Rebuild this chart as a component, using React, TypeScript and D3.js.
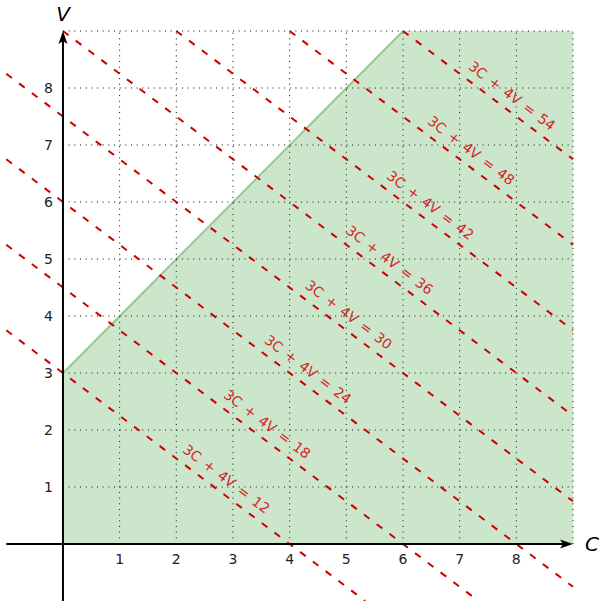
import React from 'react';
import * as d3 from 'd3';

// level lines 3C + 4V = k
const levels = [12, 18, 24, 30, 36, 42, 48, 54];
const xTicks = [1, 2, 3, 4, 5, 6, 7, 8];
const yTicks = [1, 2, 3, 4, 5, 6, 7, 8];
const gridValues = [1, 2, 3, 4, 5, 6, 7, 8, 9];
// feasible region corners (C, V)
const region: [number, number][] = [[0, 0], [0, 3], [6, 9], [9, 9], [9, 0]];
const boundary: [number, number][] = [[0, 3], [6, 9]];

const width = 600;
const height = 601;

const x = d3.scaleLinear().domain([-1, 9]).range([6.3, 573]);
const y = d3.scaleLinear().domain([-1, 9]).range([601, 31]);

const red = '#cc0000';

// clip the line 3C + 4V = k to the box [-1, 9] x [-1, 9]
function levelSegment(k: number): [number, number][] {
  const vAt = (c: number) => (k - 3 * c) / 4;
  const cAt = (v: number) => (k - 4 * v) / 3;
  let c0 = -1;
  if (vAt(c0) > 9) c0 = cAt(9);
  let c1 = 9;
  if (vAt(c1) < -1) c1 = cAt(-1);
  return [[c0, vAt(c0)], [c1, vAt(c1)]];
}

// labels sit where each level line meets the normal V = 4/3 C - 2.7
function labelPoint(k: number): [number, number] {
  const c = ((k + 10.8) * 3) / 25;
  return [c, (k - 3 * c) / 4];
}

export default function App() {
  const line = d3
    .line<[number, number]>()
    .x((d) => x(d[0]))
    .y((d) => y(d[1]));

  const angle = (Math.atan2(y(-0.75) - y(0), x(1) - x(0)) * 180) / Math.PI;
  const font = "'DejaVu Sans', sans-serif";

  return (
    <svg
      width={width}
      height={height}
      style={{ position: 'absolute', left: 0, top: 0, background: '#fff' }}
    >
      {/* dotted grid */}
      <g stroke="#000" strokeWidth={1} strokeDasharray="1 4.67">
        {gridValues.map((v) => (
          <line key={'gx' + v} x1={x(v)} x2={x(v)} y1={y(0)} y2={y(9)} />
        ))}
        {gridValues.map((v) => (
          <line key={'gy' + v} x1={x(0)} x2={x(9)} y1={y(v)} y2={y(v)} />
        ))}
      </g>

      {/* feasible region */}
      <path d={line(region) + 'Z'} fill="green" fillOpacity={0.2} stroke="none" />
      <path d={line(boundary) || ''} stroke="green" strokeOpacity={0.35} strokeWidth={2} fill="none" />

      {/* level lines */}
      <g stroke={red} strokeWidth={2} strokeDasharray="7 9" fill="none">
        {levels.map((k) => (
          <path key={'l' + k} d={line(levelSegment(k)) || ''} />
        ))}
      </g>

      {/* axes */}
      <g stroke="#000" strokeWidth={2}>
        <line x1={x(-1)} x2={x(9) - 8} y1={y(0)} y2={y(0)} />
        <line x1={x(0)} x2={x(0)} y1={y(-1)} y2={y(9) + 8} />
      </g>
      <path
        d={`M${x(9)},${y(0)} L${x(9) - 13},${y(0) - 4.5} L${x(9) - 10},${y(0)} L${x(9) - 13},${y(0) + 4.5} Z`}
        fill="#000"
      />
      <path
        d={`M${x(0)},${y(9)} L${x(0) - 4.5},${y(9) + 13} L${x(0)},${y(9) + 10} L${x(0) + 4.5},${y(9) + 13} Z`}
        fill="#000"
      />

      {/* tick labels */}
      <g fontFamily={font} fontSize={14} fill="#222">
        {xTicks.map((t) => (
          <text key={'xt' + t} x={x(t)} y={y(0) + 15} textAnchor="middle" dominantBaseline="central">
            {t}
          </text>
        ))}
        {yTicks.map((t) => (
          <text key={'yt' + t} x={x(0) - 10} y={y(t)} textAnchor="end" dominantBaseline="central">
            {t}
          </text>
        ))}
      </g>

      {/* axis titles */}
      <text x={x(9) + 19} y={y(0)} fontFamily={font} fontStyle="italic" fontSize={20} textAnchor="middle" dominantBaseline="central">
        C
      </text>
      <text x={x(0)} y={y(9) - 17} fontFamily={font} fontStyle="italic" fontSize={20} textAnchor="middle" dominantBaseline="central">
        V
      </text>

      {/* level labels */}
      <g fontFamily={font} fontSize={14} fill="#d42424" wordSpacing={2}>
        {levels.map((k) => {
          const [c, v] = labelPoint(k);
          return (
            <text
              key={'t' + k}
              transform={`translate(${x(c)},${y(v)}) rotate(${angle})`}
              dy={-9}
              textAnchor="middle"
            >
              {`3C + 4V = ${k}`}
            </text>
          );
        })}
      </g>
    </svg>
  );
}
